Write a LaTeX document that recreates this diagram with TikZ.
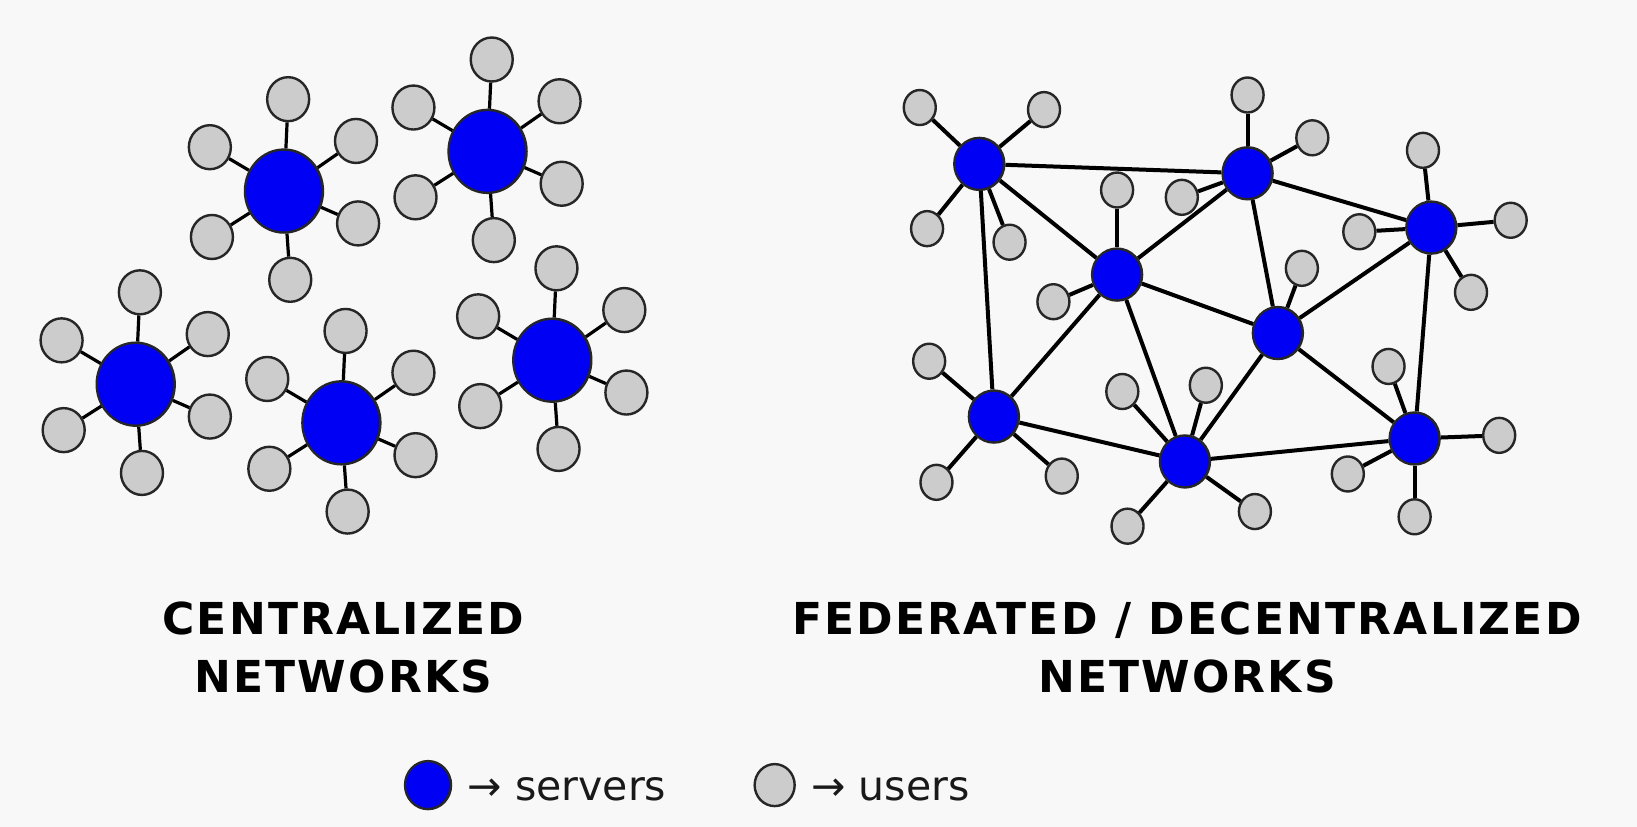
\documentclass[tikz,border=0pt]{standalone}
\usepackage{fontspec}
\setmainfont{DejaVu Sans}
\usetikzlibrary{shapes.geometric}
\definecolor{srvblue}{RGB}{0,0,245}
\definecolor{usrgray}{RGB}{204,204,204}
\definecolor{bggray}{RGB}{248,248,248}

\begin{document}
\begin{tikzpicture}[x=0.522pt, y=-0.522pt,
    every node/.style = {ellipse, draw=black!85, line width=1.2pt, inner sep=0pt},
    srv/.style = {fill=srvblue, minimum width=39pt, minimum height=41.5pt},
    usr/.style = {fill=usrgray, minimum width=21pt, minimum height=22pt},
    fsrv/.style = {fill=srvblue, minimum width=25pt, minimum height=26pt},
    fusr/.style = {fill=usrgray, minimum width=16pt, minimum height=17.5pt},
    title/.style = {draw=none, rectangle, align=center,
      font=\bfseries\fontsize{22}{29}\selectfont\addfontfeatures{LetterSpace=5}},
    legend/.style = {draw=none, rectangle, anchor=west, text=black!90, font=\fontsize{20.5}{24}\selectfont},
    link/.style = {line width=1.6pt},
    flink/.style = {line width=2pt}
  ]
  \fill[bggray] (0,0) rectangle (1568,792);
  \useasboundingbox (0,0) rectangle (1568,792);

  % centralized
  \foreach \i/\x/\y in {1/272/183, 2/467/145, 3/130/368, 4/327/405, 5/529/345} {
    \node[srv] (c\i) at (\x,\y) {};
    \foreach \j/\dx/\dy in {a/4/-88, b/-71/-42, c/69/-48, d/-69/44, e/71/31, f/6/85} {
      \node[usr] (c\i\j) at ([shift={(\dx,\dy)}]c\i) {};
      \draw[link] (c\i) -- (c\i\j);
    }
  }

  % federated
  \foreach \i/\x/\y in {1/938/157, 2/1195/166, 3/1371/218, 4/1070/263,
      5/1224/319, 6/952/399, 7/1135/442, 8/1355/420}
    \node[fsrv] (f\i) at (\x,\y) {};
  \foreach \a/\b in {1/2, 1/4, 1/6, 2/3, 2/4, 2/5, 3/5, 3/8,
      4/5, 4/6, 4/7, 5/7, 5/8, 6/7, 7/8}
    \draw[flink] (f\a) -- (f\b);
  \foreach \s/\u/\x/\y in {1/a/881/103, 1/b/1000/105, 1/c/888/219, 1/d/967/232,
      2/a/1195/91, 2/b/1257/132, 2/c/1132/189,
      3/a/1363/144, 3/b/1447/211, 3/c/1302/222, 3/d/1409/280,
      4/a/1070/182, 4/b/1009/289,
      5/a/1247/257,
      6/a/890/346, 6/b/897/462, 6/c/1017/456,
      7/a/1075/375, 7/b/1155/369, 7/c/1080/504, 7/d/1202/490,
      8/a/1330/351, 8/b/1436/417, 8/c/1291/454, 8/d/1355/495} {
    \node[fusr] (f\s\u) at (\x,\y) {};
    \draw[flink] (f\s) -- (f\s\u);
  }

  \node[title] (tc) at (329,620) {CENTRALIZED\\NETWORKS};
  \node[title] (tf) at (1137,620) {FEDERATED / DECENTRALIZED\\NETWORKS};

  % legend
  \node[srv, minimum width=23pt, minimum height=24pt] (ls) at (410,752) {};
  \node[legend] (lst) at (447,756) {→ servers};
  \node[usr, minimum width=20pt, minimum height=21pt] (lu) at (742,752) {};
  \node[legend] (lut) at (776,756) {→ users};
\end{tikzpicture}
\end{document}
